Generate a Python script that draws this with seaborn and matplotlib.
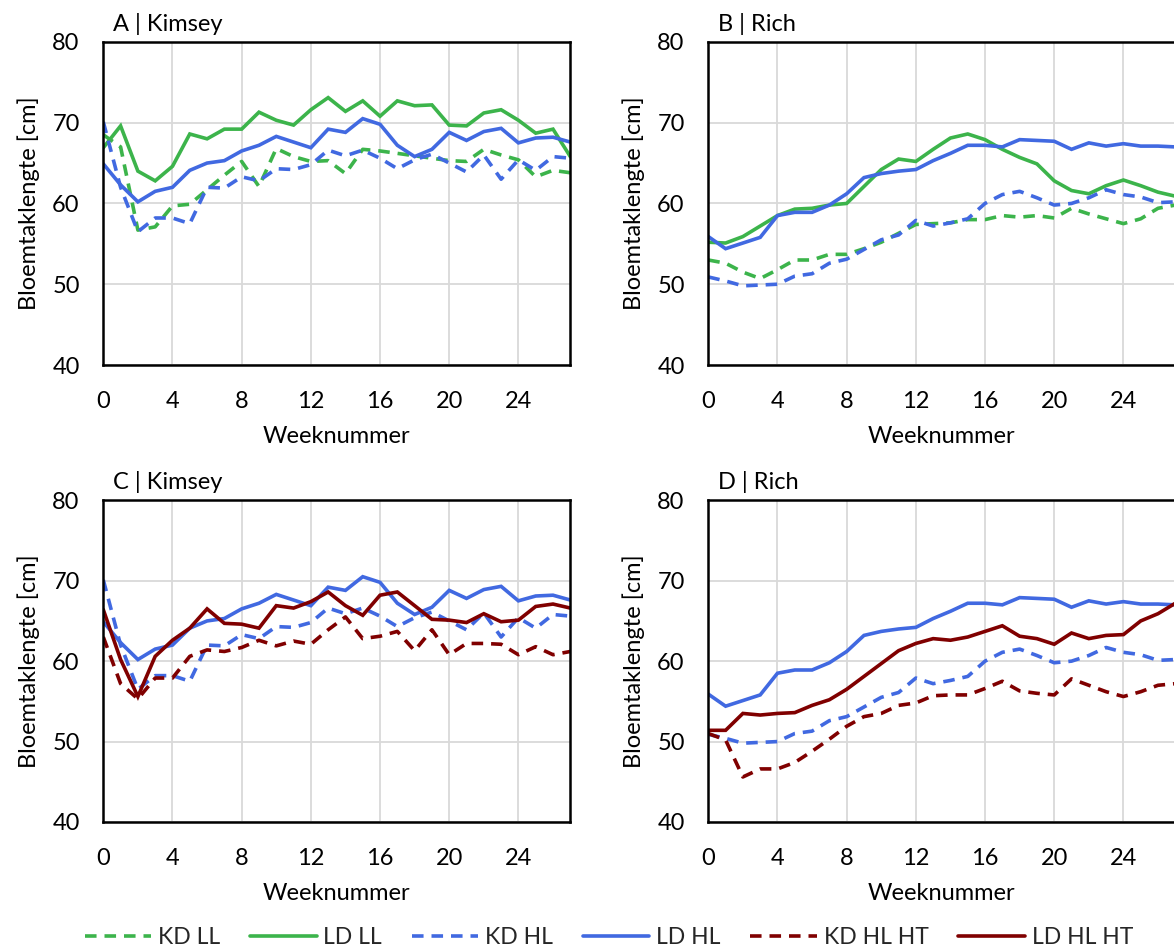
import numpy as np
import pandas as pd
import matplotlib
matplotlib.use("Agg")
import matplotlib.pyplot as plt
from matplotlib.lines import Line2D
import seaborn as sns

# ---------------- data ----------------
weeks = list(range(0, 28))

# Kimsey
kimsey_kd_ll = [68.5, 67.0, 56.7, 57.1, 59.7, 59.9, 61.7, 63.5, 65.2, 62.1, 66.8, 65.8, 65.2, 65.3,
                63.7, 66.7, 66.5, 66.2, 65.9, 65.6, 65.3, 65.2, 66.7, 66.0, 65.4, 63.3, 64.1, 63.8]
kimsey_ld_ll = [66.9, 69.6, 64.0, 62.8, 64.6, 68.6, 68.0, 69.2, 69.2, 71.3, 70.3, 69.7, 71.6, 73.1,
                71.4, 72.7, 70.8, 72.7, 72.1, 72.2, 69.7, 69.6, 71.2, 71.6, 70.3, 68.7, 69.2, 65.8]
kimsey_kd_hl = [70.1, 62.0, 56.5, 58.2, 58.2, 57.5, 62.0, 61.9, 63.3, 62.8, 64.3, 64.2, 64.8, 66.6,
                65.9, 66.6, 65.6, 64.3, 65.4, 66.1, 65.0, 63.9, 66.0, 63.0, 65.4, 64.1, 65.8, 65.6]
kimsey_ld_hl = [64.9, 62.3, 60.2, 61.5, 62.0, 64.1, 65.0, 65.3, 66.5, 67.2, 68.3, 67.6, 66.9, 69.2,
                68.8, 70.5, 69.8, 67.2, 65.8, 66.7, 68.8, 67.8, 68.9, 69.3, 67.5, 68.1, 68.2, 67.6]
kimsey_kd_hl_ht = [63.0, 57.2, 55.3, 57.9, 57.9, 60.6, 61.4, 61.2, 61.7, 62.6, 61.9, 62.5, 62.1, 63.9,
                   65.5, 62.8, 63.1, 63.7, 61.3, 63.9, 60.8, 62.2, 62.2, 62.1, 60.8, 61.8, 60.8, 61.2]
kimsey_ld_hl_ht = [66.4, 60.2, 55.6, 60.6, 62.6, 64.1, 66.5, 64.7, 64.6, 64.1, 66.9, 66.6, 67.4, 68.6,
                   66.9, 65.7, 68.2, 68.6, 66.9, 65.2, 65.1, 64.8, 65.9, 64.9, 65.1, 66.8, 67.1, 66.6]

# Rich
rich_kd_ll = [53.0, 52.6, 51.5, 50.7, 51.8, 53.0, 53.0, 53.7, 53.7, 54.4, 55.2, 56.3, 57.4, 57.5,
              57.6, 58.0, 58.0, 58.5, 58.3, 58.5, 58.2, 59.4, 58.7, 58.1, 57.5, 58.1, 59.4, 59.8]
rich_ld_ll = [55.2, 55.1, 55.9, 57.2, 58.5, 59.3, 59.4, 59.8, 60.0, 62.1, 64.2, 65.5, 65.2, 66.7,
              68.1, 68.6, 67.9, 66.7, 65.7, 64.9, 62.8, 61.6, 61.2, 62.2, 62.9, 62.2, 61.4, 60.9]
rich_kd_hl = [50.9, 50.4, 49.8, 49.9, 50.0, 51.0, 51.3, 52.6, 53.1, 54.3, 55.5, 56.1, 57.9, 57.2,
              57.6, 58.1, 60.0, 61.1, 61.5, 60.7, 59.8, 60.0, 60.7, 61.7, 61.1, 60.8, 60.1, 60.2]
rich_ld_hl = [55.9, 54.4, 55.1, 55.8, 58.5, 58.9, 58.9, 59.8, 61.2, 63.2, 63.7, 64.0, 64.2, 65.3,
              66.2, 67.2, 67.2, 67.0, 67.9, 67.8, 67.7, 66.7, 67.5, 67.1, 67.4, 67.1, 67.1, 67.0]
rich_kd_hl_ht = [51.0, 50.2, 45.6, 46.6, 46.6, 47.4, 48.8, 50.3, 51.9, 53.1, 53.5, 54.5, 54.8, 55.7,
                 55.8, 55.8, 56.6, 57.5, 56.3, 56.0, 55.8, 57.8, 57.0, 56.2, 55.6, 56.2, 57.0, 57.2]
rich_ld_hl_ht = [51.4, 51.4, 53.5, 53.3, 53.5, 53.6, 54.5, 55.2, 56.5, 58.1, 59.7, 61.3, 62.2, 62.8,
                 62.6, 63.0, 63.7, 64.4, 63.1, 62.8, 62.1, 63.5, 62.8, 63.2, 63.3, 65.0, 65.9, 67.2]

series_names = ["KD LL", "LD LL", "KD HL", "LD HL", "KD HL HT", "LD HL HT"]
panel_titles = ["A | Kimsey", "B | Rich", "C | Kimsey", "D | Rich"]
x_ticks = [0, 4, 8, 12, 16, 20, 24]
y_ticks = [40, 50, 60, 70, 80]
x_label = "Weeknummer"
y_label = "Bloemtaklengte [cm]"

panels = [
    {"KD LL": kimsey_kd_ll, "LD LL": kimsey_ld_ll, "KD HL": kimsey_kd_hl, "LD HL": kimsey_ld_hl},
    {"KD LL": rich_kd_ll, "LD LL": rich_ld_ll, "KD HL": rich_kd_hl, "LD HL": rich_ld_hl},
    {"KD HL": kimsey_kd_hl, "LD HL": kimsey_ld_hl, "KD HL HT": kimsey_kd_hl_ht, "LD HL HT": kimsey_ld_hl_ht},
    {"KD HL": rich_kd_hl, "LD HL": rich_ld_hl, "KD HL HT": rich_kd_hl_ht, "LD HL HT": rich_ld_hl_ht},
]

# ---------------- style ----------------
GREEN = "#3cb44b"
BLUE = "#4169e1"
RED = "#800000"
palette = {"KD LL": GREEN, "LD LL": GREEN, "KD HL": BLUE, "LD HL": BLUE,
           "KD HL HT": RED, "LD HL HT": RED}
dash_pat = (3.2, 2.2)
dashes = {"KD LL": dash_pat, "LD LL": "", "KD HL": dash_pat, "LD HL": "",
          "KD HL HT": dash_pat, "LD HL HT": ""}

sns.set_theme(style="white")
plt.rcParams["font.family"] = ["Lato", "DejaVu Sans"]
FS = 17

fig = plt.figure(figsize=(11.74, 9.52), dpi=100)
W, H = 1174, 952
ax_w = 467 / W
positions = [
    (103.3 / W, 1 - 365 / H, ax_w, 323.1 / H),
    (708.3 / W, 1 - 365 / H, ax_w, 323.1 / H),
    (103.3 / W, 1 - 822 / H, ax_w, 321.7 / H),
    (708.3 / W, 1 - 822 / H, ax_w, 321.7 / H),
]

for i, (pos, pdata) in enumerate(zip(positions, panels)):
    ax = fig.add_axes(pos)
    rows = []
    for name in series_names:
        if name in pdata:
            for w, v in zip(weeks, pdata[name]):
                rows.append({"week": w, "value": v, "series": name})
    df = pd.DataFrame(rows)
    order = [n for n in series_names if n in pdata]
    sns.lineplot(data=df, x="week", y="value", hue="series", style="series",
                 hue_order=order, style_order=order, palette=palette, dashes=dashes,
                 linewidth=2.6, ax=ax, legend=False)
    for ln in ax.lines:
        ln.set_dash_capstyle("butt")
        ln.set_solid_joinstyle("miter")
    ax.set_xlim(0, 27)
    ax.set_ylim(40, 80)
    ax.set_xticks(x_ticks)
    ax.set_yticks(y_ticks)
    ax.grid(True, color="#d9d9d9", linewidth=1.3)
    ax.set_axisbelow(True)
    for s in ax.spines.values():
        s.set_color("black")
        s.set_linewidth(1.8)
        s.set_visible(True)
    ax.tick_params(axis="both", direction="in", length=5, width=1.8, color="black",
                   labelsize=FS, labelcolor="black")
    ax.tick_params(axis="x", pad=19)
    ax.tick_params(axis="y", pad=17)
    ax.set_xlabel(x_label, fontsize=FS, color="black", labelpad=10)
    ax.set_ylabel(y_label, fontsize=FS, color="black", labelpad=9)
    ax.text(0.021, 1.034, panel_titles[i], transform=ax.transAxes, fontsize=FS,
            ha="left", va="baseline", color="black")

handles = [Line2D([0], [0], color=palette[n], linewidth=2.6,
                  linestyle=(0, dash_pat) if dashes[n] else "-", dash_capstyle="butt")
           for n in series_names]
fig.legend(handles, series_names, loc="center", bbox_to_anchor=(609 / W, 1 - 938 / H),
           ncol=6, frameon=False, fontsize=16.5, handlelength=2.9, columnspacing=1.3,
           handletextpad=0.3, borderaxespad=0)

fig.savefig("out.png", dpi=100)
